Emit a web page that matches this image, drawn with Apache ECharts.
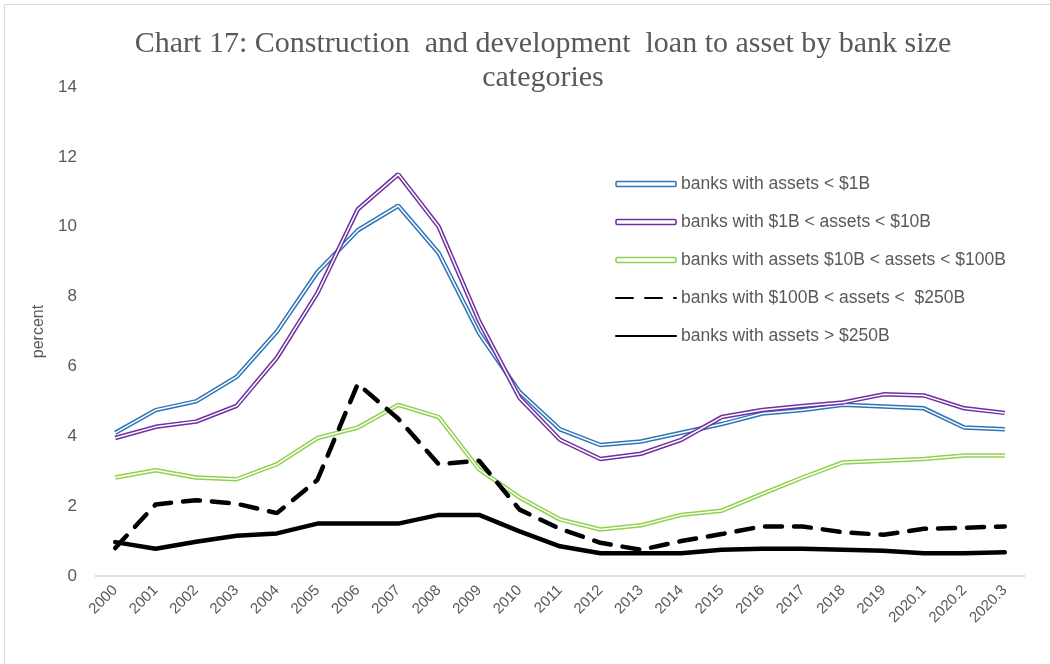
<!DOCTYPE html>
<html>
<head>
<meta charset="utf-8">
<script src="https://cdn.jsdelivr.net/npm/echarts@6/dist/echarts.min.js"></script>
<style>
  html, body { margin: 0; padding: 0; background: #fff; }
  #main { width: 1050px; height: 664px; }
</style>
</head>
<body>
<div id="main"></div>
<script>
var years = ['2000','2001','2002','2003','2004','2005','2006','2007','2008','2009','2010',
  '2011','2012','2013','2014','2015','2016','2017','2018','2019','2020.1','2020.2','2020.3'];

var under1B = [4.1, 4.75, 5.0, 5.7, 7.0, 8.7, 9.9, 10.6, 9.25, 6.95, 5.27,
  4.2, 3.75, 3.85, 4.1, 4.35, 4.65, 4.75, 4.9, 4.85, 4.8, 4.25, 4.2];
var b1to10 = [3.95, 4.27, 4.42, 4.87, 6.25, 8.1, 10.5, 11.5, 10.0, 7.3, 5.1,
  3.9, 3.35, 3.5, 3.9, 4.55, 4.75, 4.87, 4.97, 5.2, 5.17, 4.8, 4.67];
var b10to100 = [2.82, 3.03, 2.82, 2.77, 3.2, 3.95, 4.25, 4.9, 4.55, 3.05, 2.25,
  1.62, 1.33, 1.45, 1.75, 1.87, 2.35, 2.82, 3.25, 3.3, 3.35, 3.45, 3.45];
var b100to250 = [0.8, 2.05, 2.17, 2.07, 1.8, 2.75, 5.5, 4.5, 3.2, 3.3, 1.9,
  1.35, 0.95, 0.75, 1.0, 1.2, 1.42, 1.42, 1.25, 1.18, 1.35, 1.38, 1.42];
var over250B = [0.97, 0.78, 0.98, 1.15, 1.22, 1.5, 1.5, 1.5, 1.75, 1.75, 1.28,
  0.85, 0.65, 0.65, 0.65, 0.75, 0.78, 0.78, 0.75, 0.72, 0.65, 0.65, 0.68];

var names = ['banks with assets < $1B', 'banks with $1B < assets < $10B',
  'banks with assets $10B < assets < $100B', 'banks with $100B < assets <  $250B',
  'banks with assets > $250B'];

var grey = '#595959';

// excel "double" line: coloured wide line with a thin white core on top
function doubleLine(name, data, color) {
  return [{
    name: name, type: 'line', data: data, symbol: 'none', color: color,
    lineStyle: { color: color, width: 4.5 }
  }, {
    name: name + '_core', type: 'line', data: data, symbol: 'none', silent: true,
    lineStyle: { color: '#fff', width: 1.5 }
  }];
}

var series = [].concat(
  doubleLine(names[0], under1B, '#2E75B6'),
  doubleLine(names[1], b1to10, '#7030A0'),
  doubleLine(names[2], b10to100, '#92D050'),
  [{
    name: names[3], type: 'line', data: b100to250, symbol: 'none', color: '#000',
    lineStyle: { color: '#000', width: 4.5, type: [17, 12], cap: 'round' }
  }, {
    name: names[4], type: 'line', data: over250B, symbol: 'none', color: '#000',
    lineStyle: { color: '#000', width: 4.5, cap: 'round' }
  }]
);

function dblIcon(name, color) {
  return { name: name, icon: 'roundRect',
    itemStyle: { color: '#fff', borderColor: color, borderWidth: 1.6 } };
}

var myChart = echarts.init(document.getElementById('main'));
var option = {
  animation: false,
  title: {
    text: 'Chart 17: Construction  and development  loan to asset by bank size\ncategories',
    left: 538, top: 22, textAlign: 'center',
    textStyle: { fontFamily: 'Liberation Serif', fontSize: 30, fontWeight: 'normal',
      color: grey, lineHeight: 34 }
  },
  graphic: [{
    type: 'rect', shape: { x: 4.5, y: 4.5, width: 1080, height: 700 },
    style: { fill: 'none', stroke: '#d9d9d9', lineWidth: 1 }, silent: true
  }],
  legend: {
    orient: 'vertical', left: 610, top: 170, itemGap: 20,
    itemWidth: 60, itemHeight: 5,
    textStyle: { color: grey, fontSize: 17.5, fontFamily: 'Liberation Sans' },
    data: [dblIcon(names[0], '#2E75B6'), dblIcon(names[1], '#7030A0'),
      dblIcon(names[2], '#92D050'),
      { name: names[3], itemStyle: { opacity: 0 } },
      { name: names[4], itemStyle: { opacity: 0 } }]
  },
  grid: { left: 95, right: 25, top: 87, bottom: 88 },
  xAxis: {
    type: 'category', data: years, boundaryGap: true,
    axisLine: { lineStyle: { color: '#d9d9d9', width: 1.5 } },
    axisTick: { show: false },
    axisLabel: { rotate: 45, color: grey, fontSize: 15, fontFamily: 'Liberation Sans',
      margin: 12, interval: 0 }
  },
  yAxis: {
    type: 'value', min: 0, max: 14, interval: 2,
    name: 'percent', nameLocation: 'middle', nameGap: 48, nameRotate: 90,
    nameTextStyle: { color: grey, fontSize: 16, fontFamily: 'Liberation Sans' },
    axisLine: { show: false }, axisTick: { show: false }, splitLine: { show: false },
    axisLabel: { color: grey, fontSize: 17, fontFamily: 'Liberation Sans', margin: 18 }
  },
  series: series
};
myChart.setOption(option);
</script>
</body>
</html>
